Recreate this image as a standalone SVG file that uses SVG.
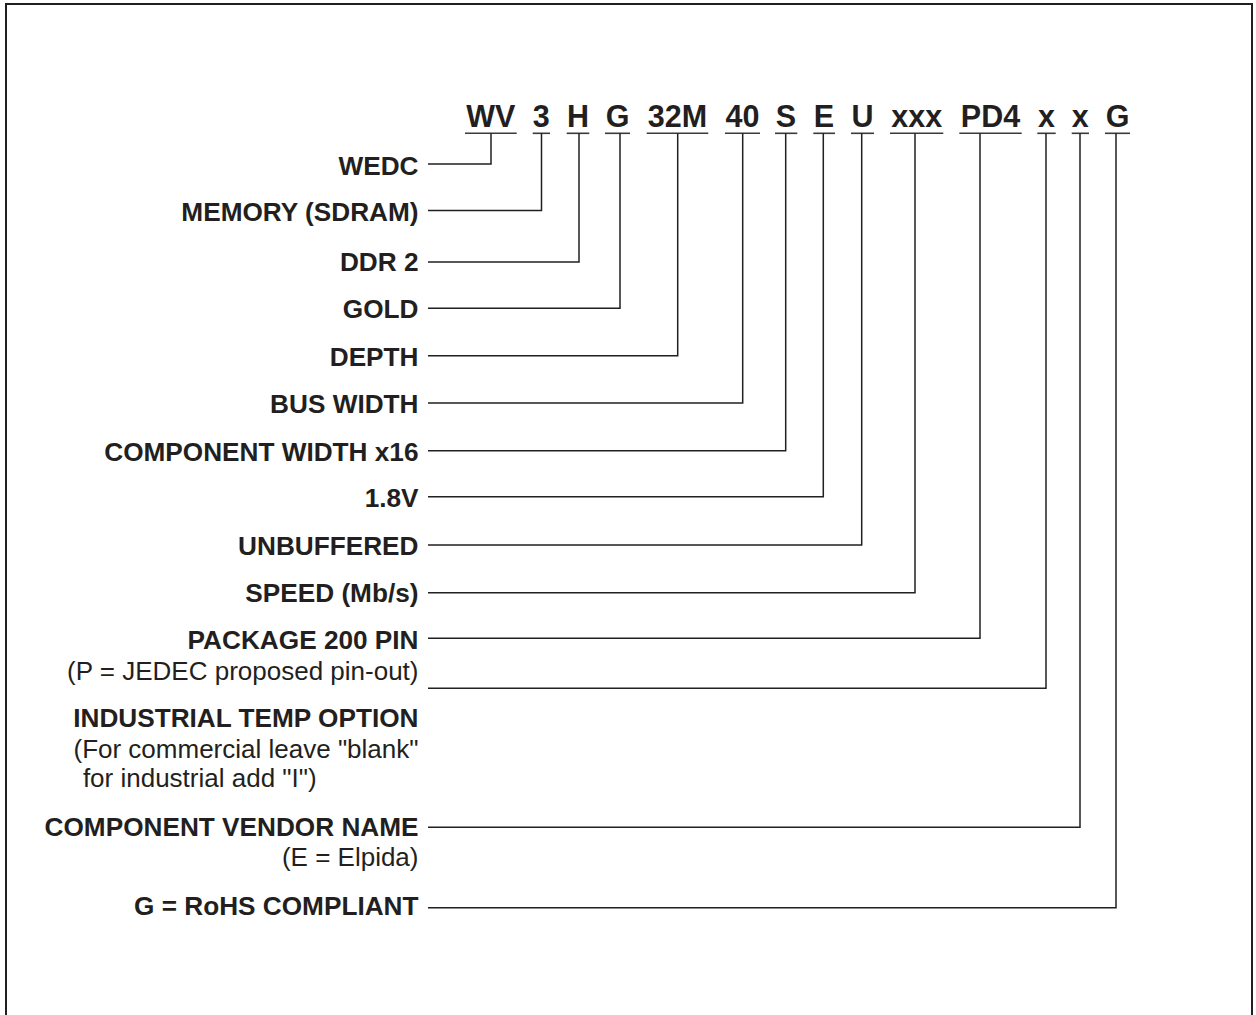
<svg xmlns="http://www.w3.org/2000/svg" width="1256" height="1015" viewBox="0 0 1256 1015">
<style>
.code{font-family:"Liberation Sans",Arial,sans-serif;font-weight:bold;font-size:30.5px;fill:#231f20;text-anchor:middle}
.lb{font-family:"Liberation Sans",Arial,sans-serif;font-weight:bold;font-size:26.2px;fill:#231f20;text-anchor:end}
.lr{font-family:"Liberation Sans",Arial,sans-serif;font-size:26px;fill:#231f20;text-anchor:end}
.ul{stroke:#3a3a3a;stroke-width:1.6;fill:none}
.cn{stroke:#231f20;stroke-width:1.5;fill:none}
</style>
<rect x="0" y="0" width="1256" height="1015" fill="#ffffff"/>
<rect id="frame" x="6" y="4" width="1246" height="1040" fill="none" stroke="#231f20" stroke-width="2"/>
<g id="code">
<g id="c-wv"><text class="code" x="490.8" y="126.7">WV</text><line class="ul" x1="465" y1="133.3" x2="516.7" y2="133.3"/></g>
<g id="c-3"><text class="code" x="541.3" y="126.7">3</text><line class="ul" x1="532.7" y1="133.3" x2="550" y2="133.3"/></g>
<g id="c-h"><text class="code" x="578" y="126.7">H</text><line class="ul" x1="566.7" y1="133.3" x2="589.3" y2="133.3"/></g>
<g id="c-g"><text class="code" x="617.5" y="126.7">G</text><line class="ul" x1="605" y1="133.3" x2="630" y2="133.3"/></g>
<g id="c-32m"><text class="code" x="677.5" y="126.7">32M</text><line class="ul" x1="646.7" y1="133.3" x2="708.3" y2="133.3"/></g>
<g id="c-40"><text class="code" x="742.5" y="126.7">40</text><line class="ul" x1="725" y1="133.3" x2="760" y2="133.3"/></g>
<g id="c-s"><text class="code" x="786" y="126.7">S</text><line class="ul" x1="775" y1="133.3" x2="797.3" y2="133.3"/></g>
<g id="c-e"><text class="code" x="824" y="126.7">E</text><line class="ul" x1="813.3" y1="133.3" x2="835" y2="133.3"/></g>
<g id="c-u"><text class="code" x="862.5" y="126.7">U</text><line class="ul" x1="851" y1="133.3" x2="874" y2="133.3"/></g>
<g id="c-xxx"><text class="code" x="916.7" y="126.7">xxx</text><line class="ul" x1="890" y1="133.3" x2="943.3" y2="133.3"/></g>
<g id="c-pd4"><text class="code" x="990.5" y="126.7">PD4</text><line class="ul" x1="959.3" y1="133.3" x2="1021.7" y2="133.3"/></g>
<g id="c-x1"><text class="code" x="1046.5" y="126.7">x</text><line class="ul" x1="1037.3" y1="133.3" x2="1055.7" y2="133.3"/></g>
<g id="c-x2"><text class="code" x="1080.3" y="126.7">x</text><line class="ul" x1="1071.7" y1="133.3" x2="1089" y2="133.3"/></g>
<g id="c-g2"><text class="code" x="1117.5" y="126.7">G</text><line class="ul" x1="1105" y1="133.3" x2="1130" y2="133.3"/></g>
</g>
<g id="labels">
<g id="l-wedc"><text class="lb" x="418.5" y="175">WEDC</text></g>
<g id="l-memory"><text class="lb" x="418.5" y="221">MEMORY (SDRAM)</text></g>
<g id="l-ddr2"><text class="lb" x="418.5" y="270.5">DDR 2</text></g>
<g id="l-gold"><text class="lb" x="418.5" y="318">GOLD</text></g>
<g id="l-depth"><text class="lb" x="418.5" y="365.5">DEPTH</text></g>
<g id="l-bus"><text class="lb" x="418.5" y="413">BUS WIDTH</text></g>
<g id="l-compw"><text class="lb" x="418.5" y="460.5">COMPONENT WIDTH x16</text></g>
<g id="l-volt"><text class="lb" x="418.5" y="506.7">1.8V</text></g>
<g id="l-unbuf"><text class="lb" x="418.5" y="555">UNBUFFERED</text></g>
<g id="l-speed"><text class="lb" x="418.5" y="601.5">SPEED (Mb/s)</text></g>
<g id="l-package"><text class="lb" x="418.5" y="649.3">PACKAGE 200 PIN</text><text class="lr" x="418.5" y="680">(P = JEDEC proposed pin-out)</text></g>
<g id="l-industrial"><text class="lb" x="418.5" y="727">INDUSTRIAL TEMP OPTION</text><text class="lr" x="418.5" y="758">(For commercial leave "blank"</text><text class="lr" x="316.7" y="786.7">for industrial add "I")</text></g>
<g id="l-vendor"><text class="lb" x="418.5" y="836">COMPONENT VENDOR NAME</text><text class="lr" x="418.5" y="866">(E = Elpida)</text></g>
<g id="l-rohs"><text class="lb" x="418.5" y="915">G = RoHS COMPLIANT</text></g>
</g>
<g id="connectors">
<path class="cn" d="M428 164H491V133.3"/>
<path class="cn" d="M428 210.5H541.5V133.3"/>
<path class="cn" d="M428 262H579V133.3"/>
<path class="cn" d="M428 308.3H620V133.3"/>
<path class="cn" d="M428 355.7H677.7V133.3"/>
<path class="cn" d="M428 403H742.7V133.3"/>
<path class="cn" d="M428 450.7H785.7V133.3"/>
<path class="cn" d="M428 496.7H823.3V133.3"/>
<path class="cn" d="M428 545H861.7V133.3"/>
<path class="cn" d="M428 592.7H915V133.3"/>
<path class="cn" d="M428 638.3H980V133.3"/>
<path class="cn" d="M428 688.3H1046V133.3"/>
<path class="cn" d="M428 827.3H1080V133.3"/>
<path class="cn" d="M428 907.7H1116V133.3"/>
</g>
</svg>
